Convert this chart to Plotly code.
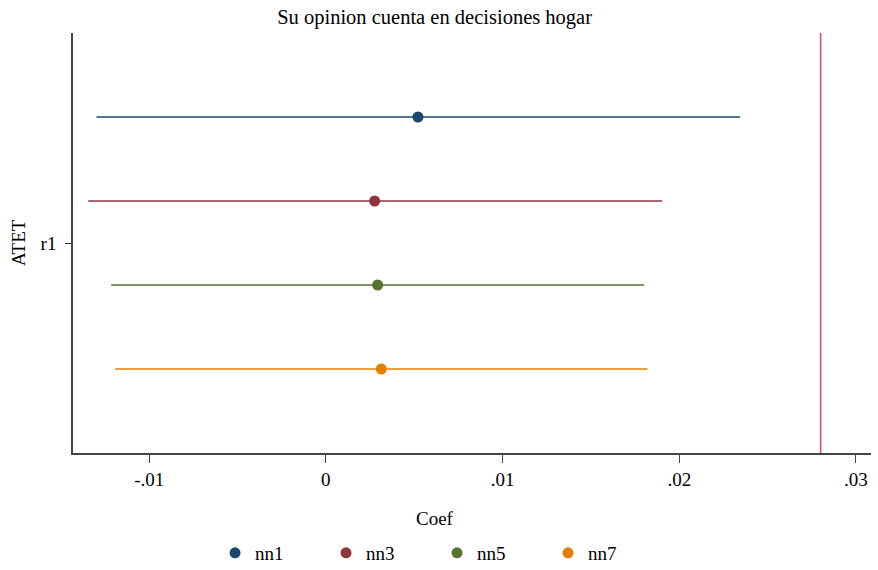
import plotly.graph_objects as go

# ---- data ----
models = ["nn1", "nn3", "nn5", "nn7"]
coef = [0.00521, 0.00276, 0.00293, 0.00314]
ci_lo = [-0.01298, -0.01345, -0.01215, -0.01192]
ci_hi = [0.02344, 0.01903, 0.01801, 0.01820]
colors = ["#1a476f", "#90353b", "#55752f", "#e37e00"]
ref_line = 0.028
x_tickvals = [-0.01, 0, 0.01, 0.02, 0.03]
x_ticktext = ["-.01", "0", ".01", ".02", ".03"]
y_label = "r1"

FONT = "Liberation Serif"

fig = go.Figure()
n = len(models)
for i, (m, c, lo, hi, col) in enumerate(zip(models, coef, ci_lo, ci_hi, colors)):
    y = (n - 1) / 2 - i
    fig.add_trace(go.Scatter(
        x=[c], y=[y], mode="markers", name=m,
        marker=dict(color=col, size=11),
        error_x=dict(type="data", symmetric=False,
                     array=[hi - c], arrayminus=[c - lo],
                     color=col, thickness=1.5, width=0),
    ))

fig.add_shape(type="line", xref="x", yref="paper", x0=ref_line, x1=ref_line,
              y0=0, y1=1, line=dict(color="#d4506e", width=1.6))

fig.update_layout(
    width=878, height=570,
    margin=dict(l=73, r=7, t=33, b=117, autoexpand=False),
    paper_bgcolor="white", plot_bgcolor="white",
    font=dict(family=FONT, size=19, color="black"),
    title=dict(text="Su opinion cuenta en decisiones hogar", x=0.495, xref="container",
               xanchor="center", y=0.97, yref="container", yanchor="middle",
               font=dict(family=FONT, size=20.5, color="black")),
    showlegend=True,
    legend=dict(orientation="h", x=0.178, xanchor="left", y=-0.238, yanchor="middle",
                entrywidth=66, entrywidthmode="pixels",
                font=dict(family=FONT, size=19, color="black"), itemclick=False),
    xaxis=dict(range=[-0.01431, 0.03085], tickvals=x_tickvals, ticktext=x_ticktext,
               showgrid=False, zeroline=False, showline=True, linecolor="#444",
               linewidth=1.5, ticks="outside", ticklen=8, tickcolor="#444",
               automargin=False,
               tickfont=dict(family=FONT, size=19, color="black")),
    yaxis=dict(range=[-2.5, 2.5], tickvals=[0], ticktext=[y_label],
               showgrid=False, zeroline=False, showline=True, linecolor="#444",
               linewidth=1.5, ticks="outside", ticklen=6, tickcolor="#222",
               automargin=False, ticklabelstandoff=5,
               tickfont=dict(family=FONT, size=19, color="black")),
)

fig.add_annotation(text="Coef", xref="paper", yref="paper", x=(435 - 73) / 798,
                   y=(453 - 518) / 420, xanchor="center", yanchor="middle",
                   showarrow=False, font=dict(family=FONT, size=19, color="black"))
fig.add_annotation(text="ATET", xref="paper", yref="paper", x=(18 - 73) / 798,
                   y=0.5, xanchor="center", yanchor="middle", textangle=-90,
                   showarrow=False, font=dict(family=FONT, size=19, color="black"))

fig.write_html("out.html", config={"displayModeBar": False},
               post_script="document.body.style.margin='0';document.body.style.overflow='hidden';")
